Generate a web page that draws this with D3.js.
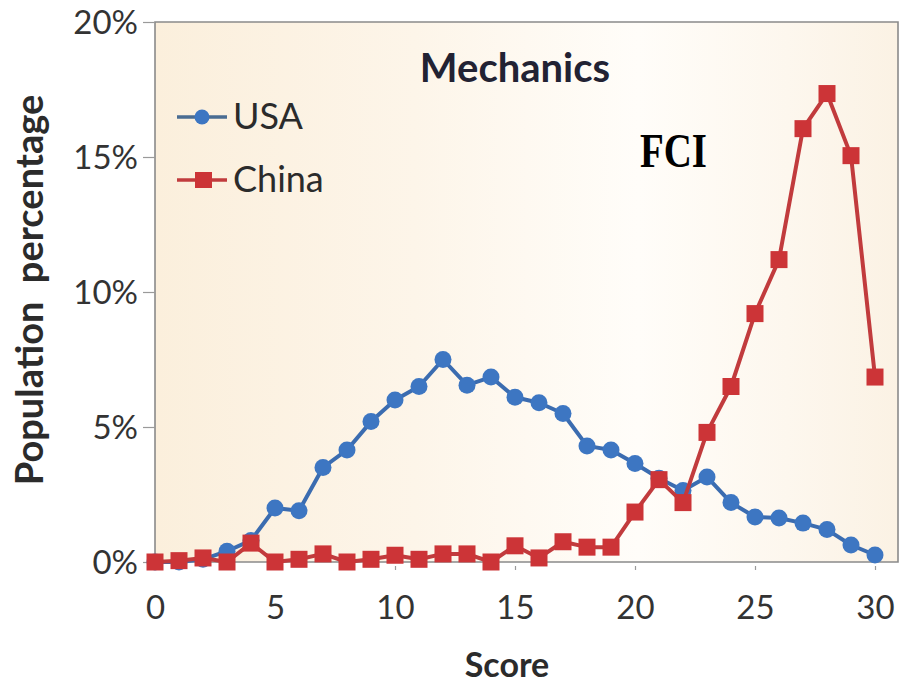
<!DOCTYPE html>
<html>
<head>
<meta charset="utf-8">
<script src="https://cdn.jsdelivr.net/npm/d3@7"></script>
<style>
  html, body { margin: 0; padding: 0; background: #ffffff; }
  svg { display: block; }
</style>
</head>
<body>
<svg id="chart" width="904" height="684"></svg>
<script>
// ---- data ----
const scores = d3.range(0, 31);
const usa = [0, 0, 0.1, 0.4, 0.8, 2.0, 1.9, 3.5, 4.15, 5.2, 6.0, 6.5, 7.5, 6.55, 6.85, 6.1, 5.9, 5.5, 4.3, 4.15, 3.65, 3.1, 2.65, 3.15, 2.2, 1.67, 1.63, 1.44, 1.2, 0.63, 0.26];
const china = [0, 0.05, 0.15, 0, 0.7, 0, 0.1, 0.3, 0, 0.1, 0.25, 0.1, 0.3, 0.3, 0, 0.6, 0.15, 0.75, 0.55, 0.55, 1.85, 3.05, 2.2, 4.8, 6.5, 9.2, 11.2, 16.05, 17.35, 15.05, 6.85];
const xTicks = [0, 5, 10, 15, 20, 25, 30];
const yTicks = [0, 5, 10, 15, 20];
const seriesNames = ["USA", "China"];

// ---- layout ----
const svg = d3.select("#chart");
const L = 155, R = 898, T = 22, B = 562;
const x = d3.scaleLinear().domain([0, 31]).range([L, L + 24 * 31]);
const y = d3.scaleLinear().domain([0, 20]).range([B, T]);

const blue = "#3d76c2", blueLine = "#3b6cb0";
const red = "#cc3437", redLine = "#c13b3d";

// background gradient
const defs = svg.append("defs");
const grad = defs.append("linearGradient").attr("id", "bg").attr("x1", "0").attr("x2", "1").attr("y1", "0").attr("y2", "0");
grad.append("stop").attr("offset", "0%").attr("stop-color", "#fbefdc");
grad.append("stop").attr("offset", "35%").attr("stop-color", "#fdf5e9");
grad.append("stop").attr("offset", "65%").attr("stop-color", "#fffdf9");
grad.append("stop").attr("offset", "85%").attr("stop-color", "#fdf7ee");
grad.append("stop").attr("offset", "100%").attr("stop-color", "#fbf2e4");

svg.append("rect").attr("x", L).attr("y", T).attr("width", R - L).attr("height", B - T).attr("fill", "url(#bg)");

// frame
svg.append("path")
  .attr("d", `M${L},${B} L${L},${T} L${R},${T} L${R},${B} Z`)
  .attr("fill", "none").attr("stroke", "#8a8a8a").attr("stroke-width", 1.6);

// y axis
const yAxis = d3.axisLeft(y).tickValues(yTicks).tickSize(12).tickPadding(5).tickFormat(d => d + "%");
const gy = svg.append("g").attr("transform", `translate(${L},0)`).call(yAxis);
gy.select(".domain").remove();
gy.selectAll(".tick line").attr("stroke", "#9a9a9a").attr("stroke-width", 1.2);
gy.selectAll(".tick text").attr("font-family", "Lato, sans-serif").attr("font-size", 33).attr("fill", "#333").attr("dy", "0.36em");

// x axis
const xAxis = d3.axisBottom(x).tickValues(xTicks).tickSize(8).tickPadding(26).tickFormat(d3.format("d"));
const gx = svg.append("g").attr("transform", `translate(0,${B})`).call(xAxis);
gx.select(".domain").remove();
gx.selectAll(".tick line").attr("stroke", "#9a9a9a").attr("stroke-width", 1.2).attr("y1", 4);
gx.selectAll(".tick text").attr("font-family", "Lato, sans-serif").attr("font-size", 33).attr("fill", "#333");

// axis titles
svg.append("text").attr("transform", `translate(43,${(T + B) / 2 - 2}) rotate(-90)`)
  .attr("text-anchor", "middle").attr("font-family", "Lato, sans-serif").attr("font-weight", "bold")
  .attr("font-size", 38).attr("fill", "#2b2b2b").attr("xml:space", "preserve").text("Population  percentage");
svg.append("text").attr("x", 507).attr("y", 677).attr("text-anchor", "middle")
  .attr("font-family", "Lato, sans-serif").attr("font-weight", "bold").attr("font-size", 34).attr("fill", "#2b2b2b").text("Score");

// title
svg.append("text").attr("x", 515).attr("y", 82).attr("text-anchor", "middle")
  .attr("font-family", "Lato, sans-serif").attr("font-weight", "bold").attr("font-size", 40).attr("fill", "#222233").text("Mechanics");
svg.append("text").attr("x", 640).attr("y", 167).attr("textLength", 67).attr("lengthAdjust", "spacingAndGlyphs")
  .attr("font-family", "'Liberation Serif', serif").attr("font-weight", "bold").attr("font-size", 48).attr("fill", "#000").text("FCI");

// lines
const line = d3.line().x((d, i) => x(scores[i])).y(d => y(d));
svg.append("path").datum(usa).attr("d", line).attr("fill", "none").attr("stroke", blueLine).attr("stroke-width", 4).attr("stroke-linejoin", "round");
svg.selectAll("circle.usa").data(usa).enter().append("circle").attr("class", "usa")
  .attr("cx", (d, i) => x(scores[i])).attr("cy", d => y(d)).attr("r", 8.5).attr("fill", blue);

svg.append("path").datum(china).attr("d", line).attr("fill", "none").attr("stroke", redLine).attr("stroke-width", 4).attr("stroke-linejoin", "round");
const sq = 17;
svg.selectAll("rect.china").data(china).enter().append("rect").attr("class", "china")
  .attr("x", (d, i) => x(scores[i]) - sq / 2).attr("y", d => y(d) - sq / 2).attr("width", sq).attr("height", sq).attr("fill", red);

// legend
const legend = svg.append("g");
const legY = [117, 180];
legend.append("line").attr("x1", 177).attr("x2", 227).attr("y1", legY[0]).attr("y2", legY[0]).attr("stroke", "#4a6c92").attr("stroke-width", 3.5);
legend.append("circle").attr("cx", 202).attr("cy", legY[0]).attr("r", 7.5).attr("fill", blue);
legend.append("line").attr("x1", 177).attr("x2", 227).attr("y1", legY[1]).attr("y2", legY[1]).attr("stroke", redLine).attr("stroke-width", 3.5);
legend.append("rect").attr("x", 195).attr("y", legY[1] - 8).attr("width", 17).attr("height", 16).attr("fill", red);
legend.selectAll("text").data(seriesNames).enter().append("text")
  .attr("x", 233).attr("y", (d, i) => legY[i] + 12)
  .attr("font-family", "Lato, sans-serif").attr("font-size", 36).attr("fill", "#2b2b2b").text(d => d);
</script>
</body>
</html>
